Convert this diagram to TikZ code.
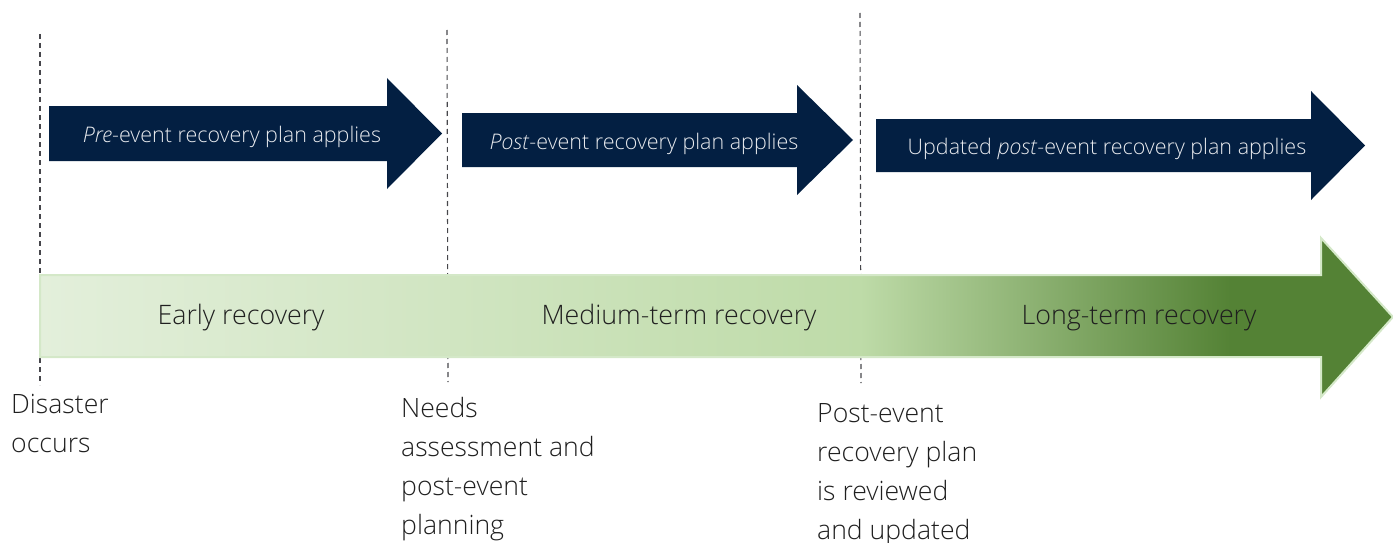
\documentclass[tikz,border=0pt]{standalone}
\usepackage{fontspec}
\setmainfont{Open Sans}[UprightFont=* Light,ItalicFont=* Light Italic]
\usepackage{tikz}
\usetikzlibrary{positioning}
\definecolor{planNavy} {RGB}{3,  31,  66}
\definecolor{planText} {RGB}{232,234,238}
\definecolor{recLight} {RGB}{227,239,219}
\definecolor{recMid}   {RGB}{190,219,168}
\definecolor{recDark}  {RGB}{84, 130, 53}
\definecolor{recEdge}  {RGB}{212,232,200}
\definecolor{markGray} {RGB}{70, 70,  75}
\pgfdeclarehorizontalshading{recShade}{100bp}{color(0bp)=(recLight); color(25bp)=(recLight); color(55.3bp)=(recMid); color(69bp)=(recDark); color(100bp)=(recDark)}

\begin{document}
\begin{tikzpicture}[x=1pt,y=-1pt,
    planArrow/.style={fill=planNavy},
    planLabel/.style={text=planText,font=\fontsize{21.5}{24}\selectfont,
                      anchor=base,inner sep=0pt},
    phaseLabel/.style={text=black!88,font=\fontsize{26.8}{30}\selectfont,
                       anchor=base,inner sep=0pt},
    eventLabel/.style={text=black!88,font=\fontsize{26.6}{39}\selectfont,
                       align=left,anchor=north west,inner sep=0pt},
    markLine/.style={markGray,line width=1.1pt,dash pattern=on 5pt off 4pt}]

    \useasboundingbox (0,0) rectangle (1393,543);

    % ── MARCOS (linhas tracejadas) ─────────────────────────
    \coordinate (m1top) at (40,34);  \coordinate (m1bot) at (40,385);
    \coordinate (m2top) at (447,30); \coordinate (m2bot) at (448,382);
    \coordinate (m3top) at (860,13); \coordinate (m3bot) at (861,383);
    \draw[markLine] (m1top) -- (m1bot);
    \draw[markLine] (m2top) -- (m2bot);
    \draw[markLine] (m3top) -- (m3bot);

    % ── SETA VERDE DE RECUPERAÇÃO ──────────────────────────
    \path[shade,shading=recShade,draw=recEdge,line width=2pt]
      (40,275) -- (1321,275) -- (1321,238) -- (1393,317)
      -- (1321,397) -- (1321,357) -- (40,357) -- cycle;

    \node[phaseLabel] (early)  at (241,324) {Early recovery};
    \node[phaseLabel] (medium) at (679,324) {Medium-term recovery};
    \node[phaseLabel] (long)   at (1139,324) {Long-term recovery};

    % ── SETAS DOS PLANOS ───────────────────────────────────
    \fill[planArrow] (49,106) -- (387,106) -- (387,78) -- (442,133.5)
      -- (387,189) -- (387,161) -- (49,161) -- cycle;
    \fill[planArrow] (462,113) -- (797,113) -- (797,85) -- (853,140)
      -- (797,195) -- (797,167) -- (462,167) -- cycle;
    \fill[planArrow] (876,119) -- (1311,119) -- (1311,91) -- (1365,145.5)
      -- (1311,200) -- (1311,172) -- (876,172) -- cycle;

    \node[planLabel] (prePlan)  at (232,142) {\textit{Pre}-event recovery plan applies};
    \node[planLabel] (postPlan) at (644,149) {\textit{Post}-event recovery plan applies};
    \node[planLabel] (updPlan)  at (1107,154) {Updated \textit{post}-event recovery plan applies};

    % ── EVENTOS ────────────────────────────────────────────
    \node[eventLabel] (disaster) at (11,394)  {Disaster\\occurs};
    \node[eventLabel] (needs)    at (401,397) {Needs\\assessment and\\post-event\\planning};
    \node[eventLabel] (review)   at (817,403) {Post-event\\recovery plan\\is reviewed\\and updated};

\end{tikzpicture}
\end{document}
